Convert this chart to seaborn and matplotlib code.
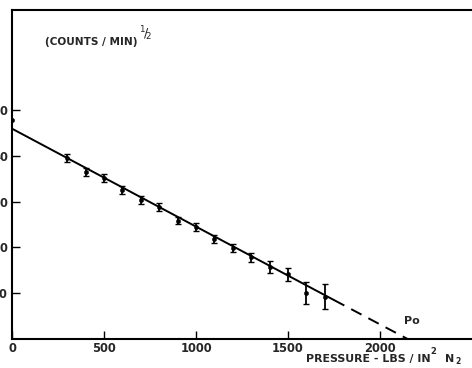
import matplotlib
matplotlib.use("Agg")
import matplotlib.pyplot as plt
import seaborn as sns
import pandas as pd

# data
pressure = [300, 400, 500, 600, 700, 800, 900, 1000, 1100, 1200, 1300, 1400, 1500, 1600, 1700]
sqrt_counts = [39.5, 36.5, 35.1, 32.5, 30.3, 28.8, 25.8, 24.5, 21.8, 19.8, 17.8, 15.7, 14.1, 10.0, 9.2]
errors = [0.9, 0.9, 0.9, 0.9, 0.9, 0.8, 0.8, 0.9, 0.9, 0.9, 0.9, 1.3, 1.5, 2.4, 2.7]
zero_point_x = [0]
zero_point_y = [47.8]
fit_solid_x = [0, 1750]
fit_solid_y = [45.9, 8.5]
fit_dash_x = [1750, 2150]
fit_dash_y = [8.5, 0.0]
x_ticks = [0, 500, 1000, 1500, 2000]
x_tick_labels = ["0", "500", "1000", "1500", "2000"]
y_ticks = [10, 20, 30, 40, 50]
y_tick_labels = ["10", "20", "30", "40", "50"]

sns.set_style("ticks")
plt.rcParams['font.family'] = ['DejaVu Sans']

fig = plt.figure(figsize=(4.72, 3.68), dpi=100)
ax = fig.add_axes([12/472, 29/368, 460/472, 329/368])

df = pd.DataFrame({"p": pressure, "c": sqrt_counts})
ax.errorbar(pressure, sqrt_counts, yerr=errors, fmt="none", ecolor="black",
            elinewidth=1.3, capsize=2, capthick=1.0)
sns.scatterplot(data=df, x="p", y="c", ax=ax, color="black", s=10, edgecolor="black", zorder=3)
sns.scatterplot(x=zero_point_x, y=zero_point_y, ax=ax, color="black", s=10, edgecolor="black", zorder=3)
sns.lineplot(x=fit_solid_x, y=fit_solid_y, ax=ax, color="black", linewidth=1.4)
sns.lineplot(x=fit_dash_x, y=fit_dash_y, ax=ax, color="black", linewidth=1.4, linestyle=(0, (6, 4)))

ax.set_xlim(0, 2500)
ax.set_ylim(0, 71.8)
ax.set_xticks(x_ticks)
ax.set_xticklabels(x_tick_labels, fontsize=8.3, fontweight="bold")
ax.set_yticks(y_ticks)
ax.set_yticklabels(y_tick_labels, fontsize=8.3, fontweight="bold")
ax.tick_params(axis="both", direction="in", length=6, width=1.0, color="black")
ax.tick_params(axis="y", pad=3)
ax.tick_params(axis="x", pad=2)
for s in ["left", "bottom", "top"]:
    ax.spines[s].set_linewidth(1.5)
    ax.spines[s].set_color("black")
ax.spines["right"].set_visible(False)
ax.set_xlabel("")
ax.set_ylabel("")

fig.text(45/472, 1 - 42/368, "(COUNTS / MIN)", fontsize=7.6, fontweight="bold", va="center", ha="left")
fig.text(139/472, 1 - 34/368, r"$^{1}\!/\!_{2}$", fontsize=9, va="center", ha="left")
fig.text(306/472, 1 - 359/368, "PRESSURE - LBS / IN", fontsize=7.9, fontweight="bold", va="center", ha="left")
fig.text(430/472, 1 - 352/368, "2", fontsize=6, fontweight="bold", va="center", ha="left")
fig.text(445/472, 1 - 359/368, "N", fontsize=7.9, fontweight="bold", va="center", ha="left")
fig.text(455/472, 1 - 362/368, "2", fontsize=5.5, fontweight="bold", va="center", ha="left")
ax.text(2130, 4.0, "Po", fontsize=8, fontweight="bold", ha="left", va="center")

fig.savefig("out.png", dpi=100)
